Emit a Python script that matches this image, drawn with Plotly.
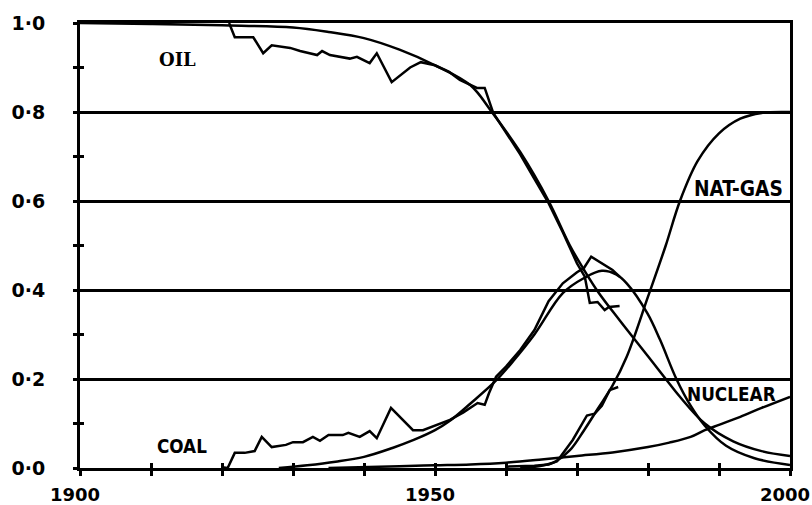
"""Market share substitution chart: fitted curves and historical data."""
import plotly.graph_objects as go

# ---- data ---------------------------------------------------------------
oil_fit_year = [1900, 1910, 1920, 1930, 1935, 1940, 1945, 1950, 1955, 1958,
                1962, 1966, 1969, 1971, 1973, 1976, 1980, 1982.5, 1984.5,
                1988, 1992, 1996, 2000]
oil_fit = [1.0, 0.998, 0.995, 0.99, 0.98, 0.966, 0.94, 0.905, 0.86, 0.80,
           0.71, 0.60, 0.50, 0.445, 0.395, 0.332, 0.251, 0.20, 0.16,
           0.10, 0.06, 0.038, 0.027]

oil_data_year = [1921, 1921.8, 1924.4, 1925.8, 1927, 1929.6, 1931, 1933.4,
                 1934.1, 1935.2, 1938, 1939, 1940.8, 1941.8, 1943.9, 1946.5,
                 1948, 1950, 1952, 1953.5, 1955.9, 1957, 1958.2, 1960, 1962,
                 1964, 1966, 1968, 1970, 1971.1, 1971.8, 1972.9, 1973.9,
                 1974.5, 1976]
oil_data = [1.0, 0.968, 0.968, 0.932, 0.95, 0.944, 0.937, 0.928, 0.937,
            0.928, 0.92, 0.924, 0.91, 0.932, 0.867, 0.90, 0.912, 0.905,
            0.89, 0.872, 0.854, 0.854, 0.798, 0.755, 0.705, 0.65, 0.595,
            0.53, 0.46, 0.43, 0.371, 0.373, 0.355, 0.362, 0.364]

coal_fit_year = [1928, 1932, 1936, 1940, 1944, 1947, 1950, 1952, 1955,
                 1958.5, 1961, 1964, 1968, 1971, 1973.5, 1975.5, 1977,
                 1979.9, 1981.7, 1984, 1986, 1988, 1991, 1995, 2000]
coal_fit = [0.0, 0.006, 0.014, 0.025, 0.045, 0.063, 0.085, 0.105, 0.145,
            0.195, 0.24, 0.30, 0.393, 0.427, 0.443, 0.435, 0.415, 0.348,
            0.288, 0.20, 0.14, 0.095, 0.05, 0.022, 0.007]

coal_data_year = [1920, 1920.8, 1921.8, 1923.2, 1924.6, 1925.6, 1927, 1929,
                  1930, 1931.4, 1932.8, 1933.8, 1935, 1937, 1937.8, 1939.4,
                  1940.8, 1941.8, 1943.8, 1946.9, 1948.3, 1950.3, 1952.1,
                  1954, 1956, 1957, 1957.6, 1958.6, 1960, 1962, 1964, 1966,
                  1968, 1970, 1971, 1972, 1973.5, 1975, 1976]
coal_data = [0.002, 0.0, 0.034, 0.034, 0.038, 0.07, 0.047, 0.052, 0.058,
             0.058, 0.07, 0.061, 0.074, 0.074, 0.079, 0.07, 0.083, 0.067,
             0.135, 0.085, 0.085, 0.097, 0.108, 0.125, 0.146, 0.142, 0.168,
             0.205, 0.228, 0.265, 0.31, 0.375, 0.415, 0.44, 0.45, 0.475,
             0.46, 0.445, 0.43]

nat_gas_fit_year = [1962, 1965, 1967, 1969, 1971, 1973, 1975, 1977, 1980,
                    1982.5, 1984.5, 1987, 1990, 1993, 1996, 2000]
nat_gas_fit = [0.0, 0.005, 0.015, 0.04, 0.085, 0.135, 0.185, 0.25, 0.385,
               0.50, 0.60, 0.69, 0.752, 0.785, 0.798, 0.80]

nat_gas_data_year = [1960, 1964, 1966, 1967.2, 1969.4, 1970.8, 1971.4,
                     1971.9, 1972.5, 1973.5, 1974.6, 1975.8]
nat_gas_data = [0.003, 0.005, 0.008, 0.015, 0.063, 0.10, 0.118, 0.12,
                0.122, 0.14, 0.175, 0.182]

nuclear_fit_year = [1935, 1945, 1950, 1955, 1960, 1965, 1970, 1975, 1980,
                    1983, 1986, 1988, 1990, 1993, 1996, 2000]
nuclear_fit = [0.0, 0.004, 0.006, 0.008, 0.012, 0.019, 0.027, 0.035, 0.047,
               0.057, 0.07, 0.085, 0.097, 0.115, 0.135, 0.16]

x_tick_vals = [1900, 1950, 2000]
x_tick_text = ["1900", "1950", "2000"]
y_tick_vals = [0.0, 0.2, 0.4, 0.6, 0.8, 1.0]
y_tick_text = ["0·0", "0·2", "0·4", "0·6", "0·8", "1·0"]

INK = "black"
Y_TICK_FONT = dict(family="DejaVu Sans", size=19, color=INK, weight="bold")
X_TICK_FONT = dict(family="DejaVu Sans", size=18, color=INK, weight="bold")
LABEL_FAMILY = "DejaVu Sans Condensed, DejaVu Sans"


def curve(x, y, smooth=True, **kw):
    return go.Scatter(
        x=x, y=y, mode="lines",
        line=dict(color=INK, width=2.5, shape="spline" if smooth else "linear"),
        hoverinfo="skip", **kw,
    )


fig = go.Figure()
fig.add_trace(curve(oil_fit_year, oil_fit))
fig.add_trace(curve(oil_data_year, oil_data, smooth=False))
fig.add_trace(curve(coal_fit_year, coal_fit))
fig.add_trace(curve(coal_data_year, coal_data, smooth=False))
fig.add_trace(curve(nat_gas_fit_year, nat_gas_fit))
fig.add_trace(curve(nat_gas_data_year, nat_gas_data, smooth=False))
# nuclear sits on the overlay axes so they get drawn (inside tick marks)
fig.add_trace(curve(nuclear_fit_year, nuclear_fit, xaxis="x2", yaxis="y2"))

labels = [
    ("OIL", 1913.7, 0.919, 18, "DejaVu Serif"),
    ("COAL", 1914.4, 0.049, 18.7, LABEL_FAMILY),
    ("NAT-GAS", 1992.8, 0.627, 20.7, LABEL_FAMILY),
    ("NUCLEAR", 1991.8, 0.166, 18.8, LABEL_FAMILY),
]
for text, x, y, size, family in labels:
    fig.add_annotation(
        x=x, y=y, text=text, showarrow=False,
        font=dict(family=family, size=size, color=INK, weight="bold"),
        xanchor="center", yanchor="middle",
    )

fig.update_layout(
    width=812, height=505,
    margin=dict(l=80, r=22, t=23, b=37),
    showlegend=False,
    plot_bgcolor="white", paper_bgcolor="white",
    xaxis=dict(
        range=[1900, 2000], tickmode="array",
        tickvals=x_tick_vals, ticktext=x_tick_text,
        ticks="outside", ticklen=5, tickwidth=2.5, tickcolor=INK,
        minor=dict(dtick=10, tick0=1900, ticks="outside", ticklen=5,
                   tickwidth=2.5, tickcolor=INK, showgrid=False),
        showgrid=False, zeroline=False, automargin=False,
        showline=True, linecolor=INK, linewidth=3, mirror=True,
        tickfont=X_TICK_FONT, ticklabelstandoff=3, ticklabelshift=-5,
        ticklabeloverflow="allow",
    ),
    yaxis=dict(
        range=[0, 1], tickmode="array",
        tickvals=y_tick_vals, ticktext=y_tick_text,
        ticks="outside", ticklen=4, tickwidth=2.5, tickcolor=INK,
        minor=dict(dtick=0.1, tick0=0, ticks="outside", ticklen=4,
                   tickwidth=2.5, tickcolor=INK, showgrid=False),
        showgrid=True, gridcolor=INK, gridwidth=3, zeroline=False,
        showline=True, linecolor=INK, linewidth=3, mirror=True,
        automargin=False,
        tickfont=Y_TICK_FONT, ticklabelstandoff=24,
    ),
    xaxis2=dict(
        range=[1900, 2000], overlaying="x", side="bottom",
        dtick=10, tick0=1900, ticks="inside", ticklen=5, tickwidth=2.5,
        tickcolor=INK, showticklabels=False, showgrid=False,
        zeroline=False, showline=False, automargin=False,
    ),
    yaxis2=dict(
        range=[0, 1], overlaying="y", side="left",
        dtick=0.1, tick0=0, ticks="inside", ticklen=4, tickwidth=2.5,
        tickcolor=INK, showticklabels=False, showgrid=False,
        zeroline=False, showline=False, automargin=False,
    ),
)

# the page's default 8px body margin would shift the fixed-size figure
fig.write_html(
    "out.html",
    config={"displayModeBar": False},
    post_script="document.body.style.margin = '0';",
)
